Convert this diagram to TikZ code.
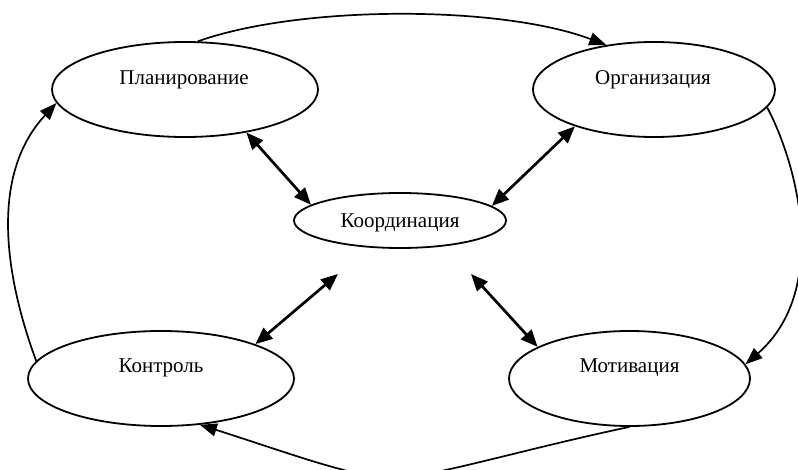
\documentclass[tikz,border=0pt]{standalone}
\usepackage{fontspec}
\setmainfont{Liberation Serif}
\usetikzlibrary{shapes.geometric,arrows.meta}
\begin{document}
\begin{tikzpicture}[x=1pt,y=-1pt,
  oval/.style={draw,ellipse,line width=1.8pt,inner sep=0pt},
  lbl/.style={font=\fontsize{21}{25}\selectfont,anchor=base,inner sep=0pt},
  flow/.style={line width=1.7pt,-{Triangle[length=17pt,width=13pt]}},
  link/.style={line width=2.7pt,{Triangle[length=17pt,width=14pt]}-{Triangle[length=17pt,width=14pt]}}]
\useasboundingbox (0,0) rectangle (798,470);
\clip (0,0) rectangle (798,470);
\fill[white] (0,0) rectangle (798,470);
% ellipses
\node[oval,minimum width=266pt,minimum height=95pt] (pl) at (185,89.5) {};
\node[oval,minimum width=242pt,minimum height=95pt] (or) at (654,89.5) {};
\node[oval,minimum width=212pt,minimum height=55pt] (ko) at (400,220.5) {};
\node[oval,minimum width=266pt,minimum height=95pt] (co) at (161,378.5) {};
\node[oval,minimum width=241pt,minimum height=95pt] (mo) at (629.5,378.5) {};
% labels
\node[lbl] (tpl) at (184,85) {Планирование};
\node[lbl] (tor) at (653,85) {Организация};
\node[lbl] (tko) at (400,228) {Координация};
\node[lbl] (tco) at (161,372) {Контроль};
\node[lbl] (tmo) at (629.5,372) {Мотивация};
% cycle
\coordinate (bot) at (392,478);
\draw[flow] (pl.75) .. controls (300,5) and (500,5) .. (or.137);
\draw[flow] (or.-9) .. controls (800,170) and (828,292) .. (mo.7.5);
\draw[flow] (mo.south) .. controls (520,450) and (430,478) .. (bot) .. controls (354,478) and (280,450) .. (co.-50);
\draw[flow] (co.172) .. controls (10,290) and (-15,180) .. (pl.186);
% coordination links
\coordinate (cfree) at (338,274);
\coordinate (dfree) at (471,274);
\draw[link] (pl.-35) -- (ko.170);
\draw[link] (or.205) -- (ko.9);
\draw[link] (cfree) -- (co.20);
\draw[link] (dfree) -- (mo.161);
\end{tikzpicture}
\end{document}
